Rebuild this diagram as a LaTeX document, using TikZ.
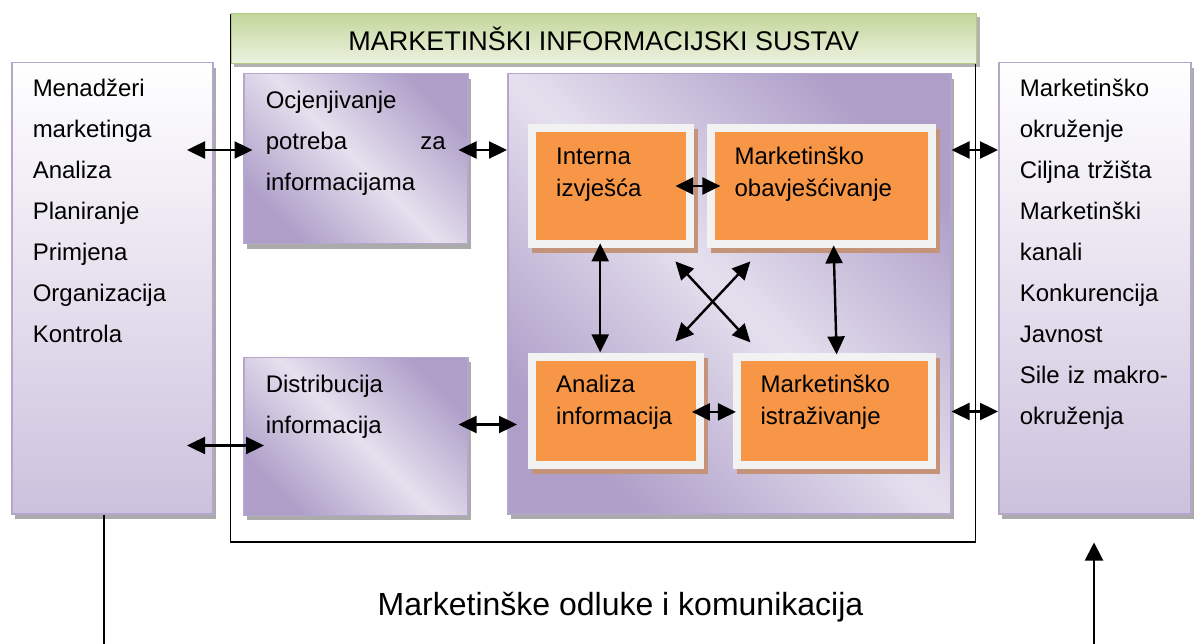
\documentclass[tikz,border=0pt]{standalone}
\usepackage{fontspec}
\setmainfont{Liberation Sans}
\usetikzlibrary{positioning,shadows,arrows.meta,calc}
\definecolor{lavB}{RGB}{182,166,206}
\definecolor{lavM}{RGB}{204,193,221}
\definecolor{lavD}{RGB}{174,158,200}
\definecolor{lavL}{RGB}{229,224,238}
\definecolor{greenD}{RGB}{195,214,155}
\definecolor{greenL}{RGB}{236,242,224}
\definecolor{greenB}{RGB}{178,203,130}
\definecolor{orangeF}{RGB}{247,150,70}
\definecolor{frameW}{RGB}{242,242,242}
\definecolor{brownS}{RGB}{196,148,122}
\tikzstyle{arrow} = [line width=2pt,-{Triangle[length=18pt,width=18pt]}]
\tikzset{
 pb/.style
  = {rectangle, draw=lavB, line width=1.5pt, anchor=north west, inner ysep=0pt,
     align=left, font=\fontsize{24}{41}\selectfont,
     drop shadow={shadow xshift=3pt, shadow yshift=-5pt, fill=black, opacity=.33}},
 pv/.style
  = {pb, top color=white, bottom color=lavM},
 pd/.style
  = {pb, top color=lavD, bottom color=lavD, middle color=lavL, shading angle=-45},
 ob/.style
  = {rectangle, fill=frameW, anchor=north west, inner ysep=0pt, inner xsep=28pt,
     align=left, font=\fontsize{24}{32}\selectfont,
     drop shadow={shadow xshift=4pt, shadow yshift=-5pt, fill=brownS, opacity=1},
     path picture={\fill[orangeF] ([shift={(8pt,-8pt)}]path picture bounding box.north west)
       rectangle ([shift={(-8pt,8pt)}]path picture bounding box.south east);}},
 dl/.style
  = {draw, line width=2.4pt, {Triangle[length=18pt,width=17pt]}-{Triangle[length=18pt,width=17pt]}},
}

\begin{document}
\begin{tikzpicture}[x=1pt, y=-1pt]
    \useasboundingbox (0,0) rectangle (1194,644);

    \node [draw, line width=1.5pt, anchor=north west, inner sep=0pt,
           minimum width=745pt, minimum height=527pt] (frame) at (229.5,14) {};
    \node [anchor=north west, draw=greenB, line width=1pt, top color=greenD, bottom color=greenL,
           inner ysep=0pt, minimum width=745.5pt, text height=37pt, text depth=13pt,
           font=\fontsize{27}{30}\selectfont,
           drop shadow={shadow xshift=3pt, shadow yshift=-4pt, fill=black, opacity=.3}]
           (title) at (230.5,13) {MARKETINŠKI INFORMACIJSKI SUSTAV};

    \node [pv, inner xsep=21pt, text width=159pt, text height=34pt, text depth=417pt] (mgr) at (11,62)
      {Menadžeri\\ marketinga\\ Analiza\\ Planiranje\\ Primjena\\ Organizacija\\ Kontrola};
    \node [pv, inner xsep=21pt, text width=150pt, text height=34pt, text depth=417pt] (env) at (998,62)
      {Marketinško\\ okruženje\\ Ciljna tržišta\\ Marketinški\\ kanali\\ Konkurencija\\ Javnost\\ Sile iz makro-\\ okruženja};
    \node [pd, inner xsep=22pt, text width=180pt, text height=35pt, text depth=135pt] (assess) at (243,73)
      {Ocjenjivanje\\ potreba\hskip 0pt plus 1filll za\\ informacijama};
    \node [pd, inner xsep=22pt, text width=180pt, text height=35pt, text depth=123pt, below=112pt of assess] (distr)
      {Distribucija\\ informacija};
    \node [pd, minimum width=443pt, minimum height=440pt] (core) at (507,73) {};

    \node [ob, text width=110pt, text height=40pt, text depth=84pt] (intern) at (528,124)
      {Interna\\ izvješća};
    \node [ob, text width=173pt, text height=40pt, text depth=84pt, right=12pt of intern] (intel)
      {Marketinško\\ obavješćivanje};
    \node [ob, text width=120pt, text height=40pt, text depth=76pt, below=104pt of intern.south west, anchor=north west] (analysis)
      {Analiza\\ informacija};
    \node [ob, text width=147pt, text height=40pt, text depth=76pt, right=28pt of analysis] (research)
      {Marketinško\\ istraživanje};

    \path [dl] ([shift={(-26.5,88)}]mgr.north east) -- ([shift={(9.5,77)}]assess.north west);
    \path [dl] ([shift={(-10,77)}]assess.north east) -- ([shift={(0,77)}]core.north west);
    \path [dl] ([shift={(0,77)}]core.north east) -- ([shift={(0,88)}]env.north west);
    \path [dl] ([shift={(-26.5,-69)}]mgr.south east) -- ([shift={(21,89)}]distr.north west);
    \path [dl] ([shift={(-10,68)}]distr.north east) -- ([shift={(10,-90)}]core.south west);
    \path [dl] ([shift={(0,-103)}]core.south east) -- ([shift={(0,-103)}]env.south west);
    \path [dl] ([shift={(-19,62)}]intern.north east) -- ([shift={(14,62)}]intel.north west);
    \path [dl] ([shift={(-12.5,59.5)}]analysis.north east) -- ([shift={(3.5,59.5)}]research.north west);
    \path [dl] ([shift={(-11,-5)}]intern.south) -- ([shift={(-16,0)}]analysis.north);
    \path [dl] ([shift={(12.5,-3)}]intel.south) -- ([shift={(2.5,2)}]research.north);
    \path [dl] ([shift={(-19,13)}]intern.south east) -- ([shift={(18,-10)}]research.north west);
    \path [dl] ([shift={(44,13)}]intel.south west) -- ([shift={(-29,-11)}]analysis.north east);

    \node [anchor=base, font=\fontsize{32}{38}\selectfont] (decide) at (620.5,615)
      {Marketinške odluke i komunikacija};
    \coordinate (footL) at (103.5,644);
    \coordinate (footR) at (1094,644);
    \draw [line width=2pt] (footL |- mgr.south) -- (footL);
    \draw [arrow] (footR) -- ($(footR |- env.south)+(0,28)$);
\end{tikzpicture}
\end{document}
